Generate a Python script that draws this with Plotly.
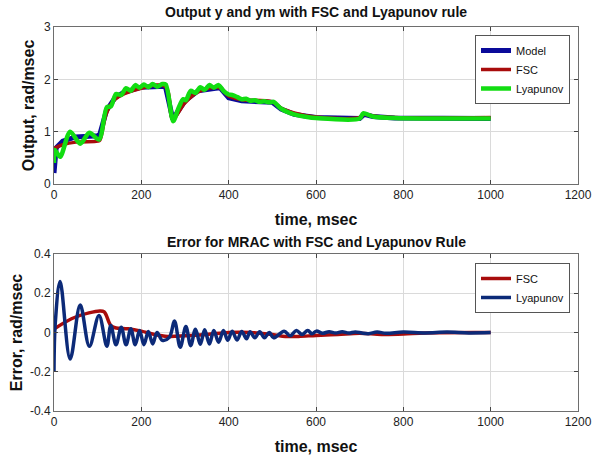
import plotly.graph_objects as go

# ---------------- data ----------------
# Top panel: Model output
model_t = [0, 2, 5, 20, 50, 100, 105, 120, 140, 160, 200, 255, 272, 300, 330, 370, 380,
           400, 430, 500, 520, 550, 600, 700, 710, 730, 780, 1000]
model_y = [0.21, 0.45, 0.69, 0.82, 0.90, 0.92, 0.95, 1.40, 1.65, 1.75, 1.85, 1.87, 1.24, 1.59,
           1.78, 1.83, 1.84, 1.65, 1.59, 1.56, 1.43, 1.33, 1.27, 1.25, 1.33, 1.29, 1.26, 1.25]

# Top panel: FSC output
fsc_t = [0, 20, 50, 100, 105, 120, 140, 200, 255, 272, 300, 330, 380, 400, 430, 500, 520,
         550, 600, 700, 710, 730, 780, 1000]
fsc_y = [0.68, 0.75, 0.80, 0.82, 0.84, 1.35, 1.62, 1.83, 1.86, 1.25, 1.55, 1.76, 1.84, 1.68,
         1.61, 1.57, 1.45, 1.36, 1.28, 1.27, 1.33, 1.30, 1.27, 1.27]

# Top panel: Lyapunov output
lyap_t = [0, 2, 14, 37, 60, 81, 103, 121, 130, 142, 154, 165, 176, 186, 196, 206, 216, 226,
          236, 248, 256, 273, 285, 296, 302, 313, 324, 335, 345, 356, 366, 377, 388, 400,
          408, 420, 430, 440, 449, 460, 471, 482, 493, 503, 520, 550, 580, 600, 700, 708,
          730, 780, 1000]
lyap_y = [0.40, 0.65, 0.52, 1.00, 0.77, 0.98, 0.85, 1.47, 1.48, 1.72, 1.70, 1.83, 1.78, 1.89,
          1.84, 1.90, 1.85, 1.91, 1.86, 1.91, 1.90, 1.20, 1.45, 1.62, 1.60, 1.78, 1.74, 1.85,
          1.80, 1.89, 1.84, 1.89, 1.78, 1.71, 1.70, 1.66, 1.62, 1.63, 1.59, 1.60, 1.57, 1.58,
          1.56, 1.57, 1.44, 1.33, 1.28, 1.26, 1.25, 1.35, 1.29, 1.26, 1.25]

# Bottom panel: FSC error
efsc_t = [0, 40, 80, 105, 115, 130, 140, 170, 200, 230, 260, 300, 350, 400, 450, 500, 530,
          560, 600, 650, 700, 750, 800, 850, 1000]
efsc_y = [0.017, 0.07, 0.10, 0.11, 0.105, 0.036, 0.024, 0.019, 0.007, -0.01, -0.02, -0.017,
          -0.01, 0.0, 0.0, -0.01, -0.02, -0.02, -0.015, -0.01, -0.004, -0.01, -0.008, -0.002,
          0.0]

# Bottom panel: Lyapunov error
elyap_t = [0, 3, 14, 37, 60, 81, 103, 121, 130, 142, 154, 165, 176, 186, 196, 206, 216, 226,
           236, 248, 264, 276, 289, 302, 313, 324, 335, 345, 356, 366, 377, 388, 398, 408,
           419, 430, 441, 449, 460, 471, 482, 493, 503, 527, 541, 555, 568, 581, 591, 601,
           615, 630, 645, 660, 675, 690, 705, 720, 740, 760, 800, 850, 900, 950, 1000]
elyap_y = [-0.20, 0.05, 0.26, -0.135, 0.14, -0.07, 0.087, -0.07, 0.036, -0.063, 0.027,
           -0.063, 0.019, -0.063, 0.01, -0.062, 0.005, -0.058, 0.0, -0.04, -0.025, 0.058,
           -0.075, 0.03, -0.067, 0.017, -0.06, 0.014, -0.058, 0.01, -0.05, 0.01, -0.04, 0.007,
           -0.038, 0.005, -0.032, 0.004, -0.027, 0.004, -0.027, 0.0, -0.027, 0.007, -0.017,
           0.01, -0.01, 0.01, -0.007, 0.007, -0.004, 0.004, -0.003, 0.004, -0.003, 0.003,
           -0.003, -0.006, 0.002, -0.004, 0.002, -0.002, 0.002, -0.002, 0.0]

x_ticks = [0, 200, 400, 600, 800, 1000, 1200]
top_yticks = [0, 1, 2, 3]
bot_yticks = [-0.4, -0.2, 0, 0.2, 0.4]

# ---------------- figure ----------------
W, H = 605, 457
FONT = "Liberation Sans, Arial, sans-serif"


def px(x):
    return x / W


def py(y):
    return 1 - y / H


fig = go.Figure()

fig.add_trace(go.Scatter(x=model_t, y=model_y, name="Model", mode="lines",
                         line=dict(color="#0a0a9a", width=5), xaxis="x", yaxis="y",
                         legend="legend"))
fig.add_trace(go.Scatter(x=fsc_t, y=fsc_y, name="FSC", mode="lines",
                         line=dict(color="#a80c0c", width=3.5, shape="spline"),
                         xaxis="x", yaxis="y", legend="legend"))
fig.add_trace(go.Scatter(x=lyap_t, y=lyap_y, name="Lyapunov", mode="lines",
                         line=dict(color="#12dd12", width=4.5, shape="spline", smoothing=0.8),
                         xaxis="x", yaxis="y", legend="legend"))

fig.add_trace(go.Scatter(x=efsc_t, y=efsc_y, name="FSC", mode="lines",
                         line=dict(color="#a80c0c", width=3.5, shape="spline"),
                         xaxis="x2", yaxis="y2", legend="legend2"))
fig.add_trace(go.Scatter(x=elyap_t, y=elyap_y, name="Lyapunov", mode="lines",
                         line=dict(color="#0c2a78", width=3.5, shape="spline", smoothing=1.0),
                         xaxis="x2", yaxis="y2", legend="legend2"))

xdom = [px(54), px(578)]
top_dom = [py(184), py(27)]
bot_dom = [py(411), py(254)]

axis_common = dict(showline=True, linecolor="#6e6e6e", linewidth=1, mirror="ticks",
                   ticks="inside", ticklen=4, tickcolor="#444444", automargin=False,
                   showgrid=True, gridcolor="#dadada", gridwidth=1, zeroline=False,
                   tickfont=dict(family=FONT, size=12, color="#222222"))
title_font = dict(family=FONT, size=16, color="#111111")

fig.update_layout(
    width=W, height=H,
    margin=dict(l=0, r=0, t=0, b=0),
    paper_bgcolor="white", plot_bgcolor="white",
    font=dict(family=FONT, color="#111111"),
    xaxis=dict(axis_common, domain=xdom, anchor="y", range=[0, 1200], tickvals=x_ticks,
               title=dict(text="<b>time, msec</b>", font=title_font, standoff=12)),
    yaxis=dict(axis_common, domain=top_dom, anchor="x", range=[0, 3], tickvals=top_yticks,
               title=dict(text="<b>Output, rad/msec</b>", font=title_font, standoff=5)),
    xaxis2=dict(axis_common, domain=xdom, anchor="y2", range=[0, 1200], tickvals=x_ticks,
                title=dict(text="<b>time, msec</b>", font=title_font, standoff=12)),
    yaxis2=dict(axis_common, domain=bot_dom, anchor="x2", range=[-0.4, 0.4],
                tickvals=bot_yticks, ticktext=["-0.4", "-0.2", "0", "0.2", "0.4"],
                title=dict(text="<b>Error, rad/msec</b>", font=title_font, standoff=3)),
    legend=dict(x=px(570), y=py(35), xanchor="right", yanchor="top",
                bgcolor="white", bordercolor="#555555", borderwidth=1,
                font=dict(family=FONT, size=11, color="#111111"),
                itemwidth=30, tracegroupgap=0),
    legend2=dict(x=px(570), y=py(263), xanchor="right", yanchor="top",
                 bgcolor="white", bordercolor="#555555", borderwidth=1,
                 font=dict(family=FONT, size=11, color="#111111"),
                 itemwidth=30, tracegroupgap=0),
    annotations=[
        dict(text="<b>Output y and ym with FSC and Lyapunov rule</b>", x=px(316), y=py(12),
             xref="paper", yref="paper", showarrow=False, xanchor="center", yanchor="middle",
             font=dict(family=FONT, size=14, color="#111111")),
        dict(text="<b>Error for MRAC with FSC and Lyapunov Rule</b>", x=px(316), y=py(242),
             xref="paper", yref="paper", showarrow=False, xanchor="center", yanchor="middle",
             font=dict(family=FONT, size=14, color="#111111")),
    ],
)

# Remove the default 8px page margin so the figure fills the window exactly.
fig.write_html("out.html", config={"displayModeBar": False},
               post_script="document.body.style.margin='0';")
